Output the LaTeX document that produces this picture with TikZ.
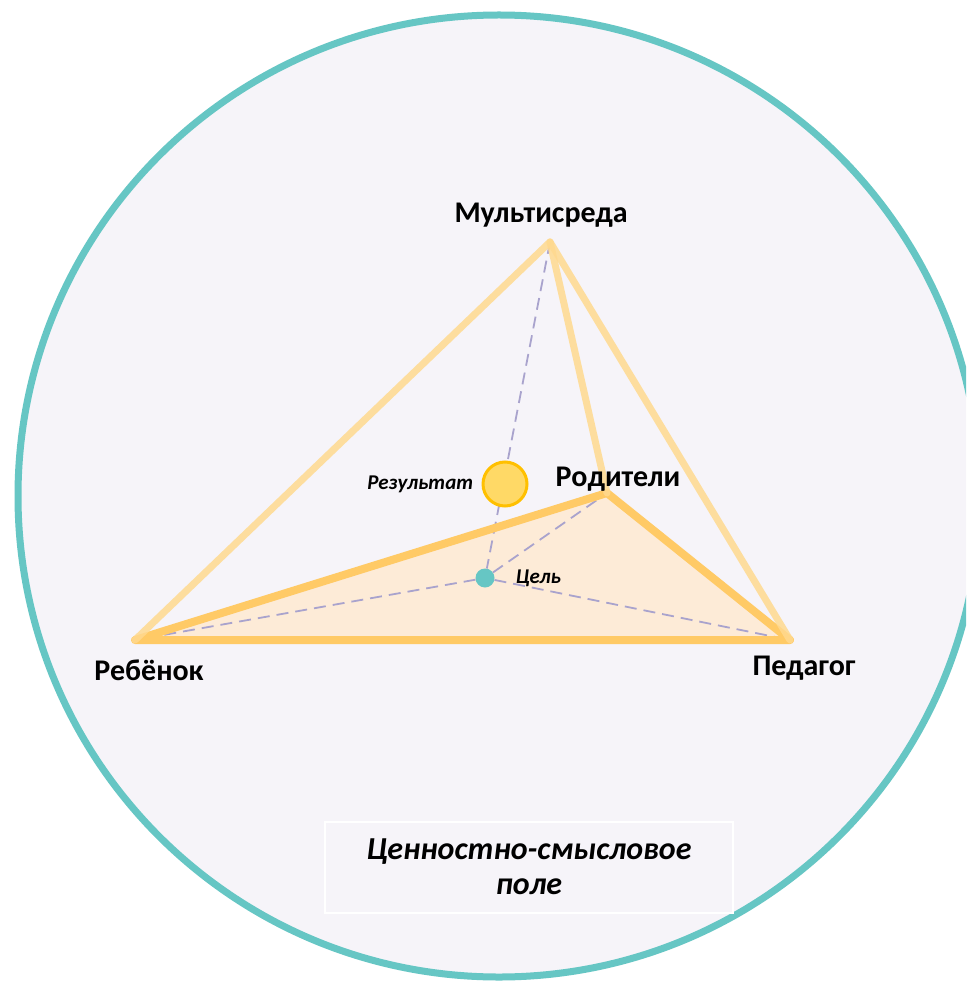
\documentclass[tikz,border=0pt]{standalone}
\usepackage{fontspec}
\setmainfont{Carlito}
\usetikzlibrary{positioning}

\definecolor{fieldbg}{HTML}{F6F4F9}
\definecolor{rimteal}{HTML}{66C6C4}
\definecolor{edgeorange}{HTML}{FFCA66}
\definecolor{edgelight}{HTML}{FFD98F}
\definecolor{basefill}{HTML}{FDEBD7}
\definecolor{dashlilac}{HTML}{A9A3CD}
\definecolor{resultfill}{HTML}{FFD966}
\definecolor{resultrim}{HTML}{FFC000}

\tikzset{
  vertexlbl/.style={font=\fontsize{30}{36}\selectfont\bfseries, inner sep=0pt},
  smalllbl/.style={font=\fontsize{21}{25}\selectfont\bfseries\itshape, inner sep=0pt},
  baseedge/.style={line width=8pt, edgeorange, line join=round, line cap=round},
  apexedge/.style={line width=7pt, edgelight, opacity=0.85, line cap=round},
  dashline/.style={line width=1.8pt, dashlilac, dash pattern=on 12pt off 7pt},
}

\begin{document}
\begin{tikzpicture}[x=1pt,y=-1pt]
\useasboundingbox (0,0) rectangle (966,981);
\clip (0,0) rectangle (966,981);
\fill[white] (0,0) rectangle (966,981);

% value field
\draw[line width=7pt, rimteal, fill=fieldbg] (499,496) circle[radius=481];

% vertices of the pyramid
\coordinate (multi) at (550,242);
\coordinate (parent) at (607,493);
\coordinate (child) at (135,640);
\coordinate (teacher) at (790,640);

% base face
\fill[basefill] (child) -- (parent) -- (teacher) -- cycle;

% goal and result
\node[circle, fill=rimteal, minimum size=19pt, inner sep=0pt] (goal) at (485,578) {};
\draw[dashline] (multi) -- (goal);
\foreach \v in {child, parent, teacher} {
  \draw[dashline] (goal) -- (\v);
}

\draw[baseedge] (child) -- (parent) -- (teacher) -- cycle;
\draw[apexedge] (multi) -- (child);
\draw[apexedge] (multi) -- (parent);
\draw[apexedge] (multi) -- (teacher);

\node[circle, draw=resultrim, line width=3pt, fill=resultfill, minimum size=44pt,
  inner sep=0pt] (result) at (505,484) {};

% labels
\node[vertexlbl] (multilbl) at (541,215) {Мультисреда};
\node[vertexlbl] (parentlbl) at (618,479) {Родители};
\node[vertexlbl] (childlbl) at (149,670) {Ребёнок};
\node[vertexlbl] (teacherlbl) at (804,668) {Педагог};
\node[smalllbl, left=8pt of result] (resultlbl) {Результат};
\node[smalllbl, right=21pt of goal] (goallbl) {Цель};

\node[draw=white, line width=2pt, fill=fieldbg, minimum width=408pt, minimum height=91pt,
  align=center, font=\fontsize{32}{35}\selectfont\bfseries\itshape]
  (fieldlbl) at (529,867) {Ценностно-смысловое\\поле};
\end{tikzpicture}
\end{document}
